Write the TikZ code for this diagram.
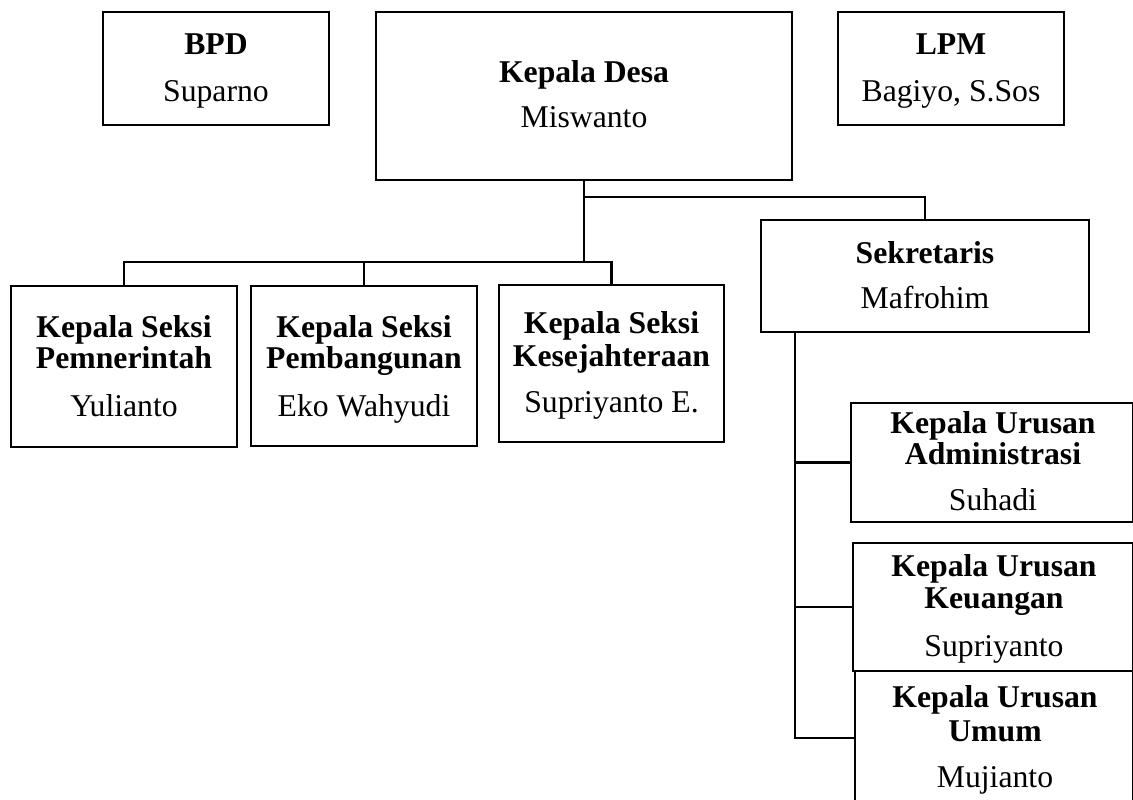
\documentclass[tikz,border=0pt]{standalone}
\usepackage{fontspec}
\setmainfont{Liberation Serif}
\begin{document}
\begin{tikzpicture}[x=1pt,y=-1pt,
  box/.style={draw, line width=2pt, rectangle, inner sep=0pt, outer sep=0pt},
  ttl/.style={font=\fontsize{31.7}{36}\selectfont\bfseries, anchor=base, inner sep=0pt},
  nm/.style={font=\fontsize{31.7}{36}\selectfont, anchor=base, inner sep=0pt},
  conn/.style={draw, line width=2.2pt}]
\useasboundingbox (0,0) rectangle (1133,800);
\clip (0,0) rectangle (1133,800);
% boxes
\node[box, minimum width=226pt, minimum height=113pt] (bpd) at (216,68.5) {};
\node[box, minimum width=416pt, minimum height=168pt] (kd) at (584,96) {};
\node[box, minimum width=226pt, minimum height=113pt] (lpm) at (951,68.5) {};
\node[box, minimum width=328pt, minimum height=112pt] (sek) at (925,276) {};
\node[box, minimum width=226pt, minimum height=161pt] (s1) at (124,366.5) {};
\node[box, minimum width=226pt, minimum height=160pt] (s2) at (364,366) {};
\node[box, minimum width=225pt, minimum height=157pt] (s3) at (611.5,363.5) {};
\node[box, minimum width=282pt, minimum height=119pt] (adm) at (992,462.5) {};
\node[box, minimum width=280pt, minimum height=128pt] (keu) at (993,607) {};
\node[box, minimum width=278pt, minimum height=134pt] (umum) at (994,738) {};
% texts
\node[ttl] (bpdt) at (216,55) {BPD};
\node[nm] (bpdn) at (216,101) {Suparno};
\node[ttl] (kdt) at (584,83) {Kepala Desa};
\node[nm] (kdn) at (584,128) {Miswanto};
\node[ttl] (lpmt) at (951,55) {LPM};
\node[nm] (lpmn) at (951,101) {Bagiyo, S.Sos};
\node[ttl] (sekt) at (925,263) {Sekretaris};
\node[nm] (sekn) at (925,308) {Mafrohim};
\node[ttl] (s1a) at (124,337) {Kepala Seksi};
\node[ttl] (s1b) at (124,368) {Pemnerintah};
\node[nm] (s1n) at (124,416) {Yulianto};
\node[ttl] (s2a) at (364,337) {Kepala Seksi};
\node[ttl] (s2b) at (364,368) {Pembangunan};
\node[nm] (s2n) at (364,416) {Eko Wahyudi};
\node[ttl] (s3a) at (611.5,333) {Kepala Seksi};
\node[ttl] (s3b) at (611.5,366) {Kesejahteraan};
\node[nm] (s3n) at (611.5,412) {Supriyanto E.};
\node[ttl] (adma) at (993,433) {Kepala Urusan};
\node[ttl] (admb) at (993,464) {Administrasi};
\node[nm] (admn) at (993,510) {Suhadi};
\node[ttl] (keua) at (994,576) {Kepala Urusan};
\node[ttl] (keub) at (994,608) {Keuangan};
\node[nm] (keun) at (994,656) {Supriyanto};
\node[ttl] (umuma) at (995,707) {Kepala Urusan};
\node[ttl] (umumb) at (995,741) {Umum};
\node[nm] (umumn) at (995,787) {Mujianto};
% connectors
\coordinate (bus) at (584,262);
\coordinate (br) at (584,197);
\coordinate (sx) at (795,0);
\draw[conn] (kd.south) -- (bus);
\draw[conn] (s1.north) -- ++(0,-24) -| (s3.north);
\draw[conn] (s2.north) -- ++(0,-24);
\draw[conn] (br) -| (sek.north);
\draw[conn] (sek.south -| sx) |- (umum.west);
\draw[conn] (sek.south -| sx) |- (adm.west);
\draw[conn] (sek.south -| sx) |- (keu.west);
\end{tikzpicture}
\end{document}
